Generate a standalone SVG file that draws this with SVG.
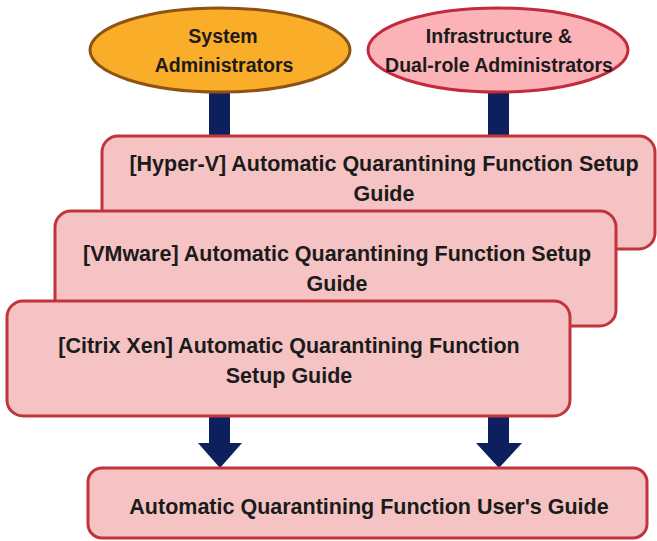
<svg xmlns="http://www.w3.org/2000/svg" width="657" height="541" viewBox="0 0 657 541">
<defs>
<style>
.t{font-family:"Liberation Sans",Arial,sans-serif;font-weight:bold;font-size:21.5px;fill:#1b1b1b;text-anchor:middle}
.e{font-size:19.5px}
.box{fill:#F5C3C3;stroke:#C0343B;stroke-width:3}
.arw{fill:#0E1F5E}
</style>
</defs>
<rect width="657" height="541" fill="#ffffff"/>
<g id="connectors">
<path class="arw" d="M209,92 H230 V443 H242 L220,468 L198,443 H209 Z"/>
<path class="arw" d="M488,92 H509 V443 H522 L499,468 L476,443 H488 Z"/>
</g>
<g id="sysadmin">
<ellipse cx="220" cy="50" rx="130" ry="42" fill="#FAAD28" stroke="#8E5314" stroke-width="3"/>
<text class="t e" x="223" y="43">System</text>
<text class="t e" x="224" y="72">Administrators</text>
</g>
<g id="infraadmin">
<ellipse cx="498" cy="50" rx="130" ry="42" fill="#FBB3B8" stroke="#C32A3C" stroke-width="3"/>
<text class="t e" x="499" y="43">Infrastructure &amp;</text>
<text class="t e" x="499" y="72">Dual-role Administrators</text>
</g>
<g id="hyperv">
<rect class="box" x="102" y="136" width="553" height="113" rx="16"/>
<text class="t" x="384" y="171">[Hyper-V] Automatic Quarantining Function Setup</text>
<text class="t" x="384" y="201">Guide</text>
</g>
<g id="vmware">
<rect class="box" x="55" y="211" width="561" height="115" rx="16"/>
<text class="t" x="337" y="261">[VMware] Automatic Quarantining Function Setup</text>
<text class="t" x="337" y="291">Guide</text>
</g>
<g id="citrix">
<rect class="box" x="7" y="301" width="563" height="115" rx="16"/>
<text class="t" x="289" y="353">[Citrix Xen] Automatic Quarantining Function</text>
<text class="t" x="289" y="383">Setup Guide</text>
</g>
<g id="userguide">
<rect class="box" x="88" y="468" width="559" height="70" rx="14"/>
<text class="t" x="369" y="514">Automatic Quarantining Function User's Guide</text>
</g>
</svg>
